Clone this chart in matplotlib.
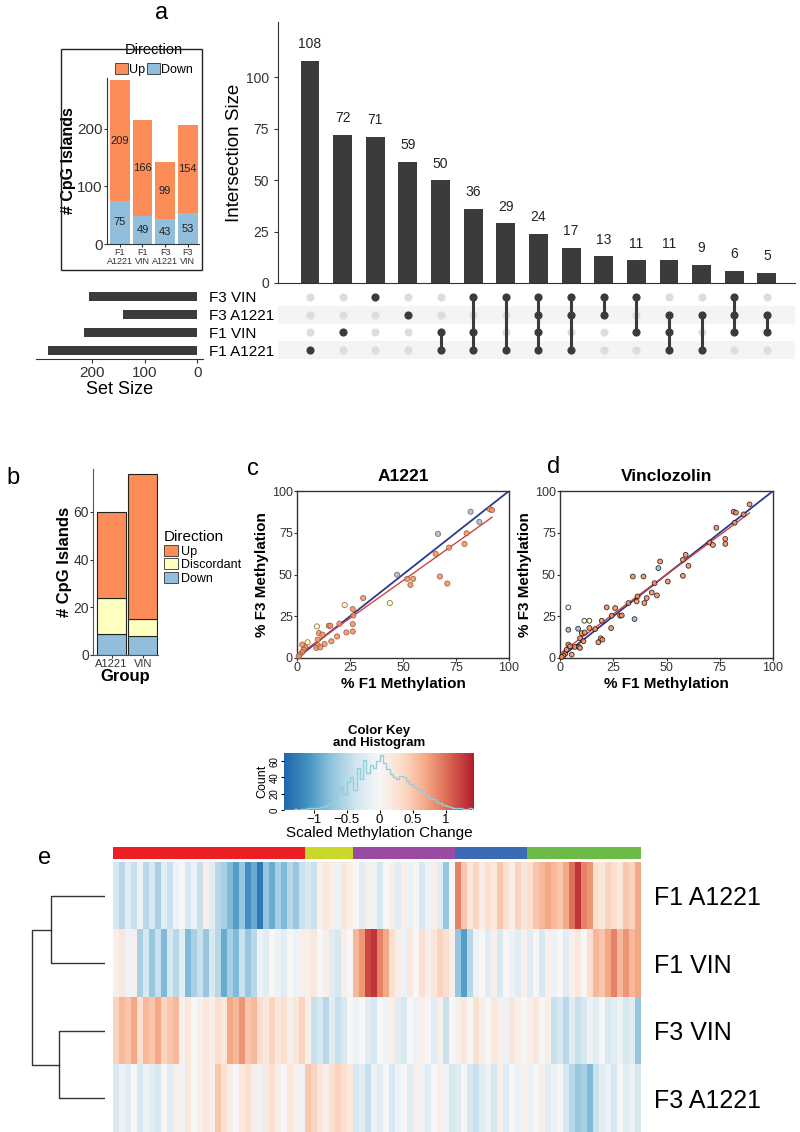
import numpy as np
import matplotlib
matplotlib.use("Agg")
import matplotlib.pyplot as plt
from matplotlib.colors import LinearSegmentedColormap, ListedColormap
from matplotlib.patches import Patch, Rectangle

plt.rcParams['font.family'] = ['Liberation Sans', 'DejaVu Sans']

W, H = 800, 1132

# ---------------- data ----------------
# panel a, inset: CpG islands per group
groups = ["F1\nA1221", "F1\nVIN", "F3\nA1221", "F3\nVIN"]
set_names = ["F1 A1221", "F1 VIN", "F3 A1221", "F3 VIN"]
up_counts = [209, 166, 99, 154]
down_counts = [75, 49, 43, 53]

# panel a, upset: 0=F1 A1221, 1=F1 VIN, 2=F3 A1221, 3=F3 VIN
inter_sizes = [108, 72, 71, 59, 50, 36, 29, 24, 17, 13, 11, 11, 9, 6, 5]
inter_sets = [(0,), (1,), (3,), (2,), (0, 1), (0, 1, 3), (0, 3), (0, 1, 2, 3),
              (0, 2, 3), (2, 3), (1, 3), (0, 1, 2), (0, 2), (1, 2, 3), (1, 2)]

# panel b
b_groups = ["A1221", "VIN"]
b_up = [36, 61]
b_disc = [15, 7]
b_down = [9, 8]

# panel c (A1221), U=up, D=down, X=discordant
c_f1 = [81.9, 91.0, 92.0, 86.0, 66.5, 80.0, 79.0, 71.7, 65.4, 47.2, 52.0, 54.8, 53.5, 67.4, 70.9,
        43.8, 22.5, 31.2, 26.3, 26.6, 26.3, 26.3, 23.3, 15.0, 15.7, 9.4, 10.4, 18.9, 16.2, 13.0,
        9.8, 9.8, 9.1, 11.0, 5.0, 3.9, 3.1, 2.4, 1.3, 0.8, 2.5, 20.0, 12.0]
c_f3 = [87.6, 89.0, 88.6, 81.5, 74.3, 74.7, 68.3, 66.1, 62.4, 49.8, 47.4, 47.4, 43.8, 48.8, 44.6,
        32.9, 31.7, 35.9, 29.3, 25.5, 20.3, 15.9, 15.3, 19.3, 19.3, 18.9, 14.9, 12.9, 10.0, 8.4,
        11.0, 7.6, 6.0, 6.4, 9.4, 6.4, 5.0, 3.4, 2.0, 1.0, 8.0, 20.5, 14.0]
c_dir = list("DUUDDUUUUDUUUUUXXUUUUUUUUXUUUUUUUUXUUUUUUUU")

# panel d (Vinclozolin)
d_f1 = [89, 81.5, 82.6, 86.2, 82, 73.4, 77.6, 77.6, 70.2, 71.8, 59, 57.7, 60.3, 47, 46.2, 57.7,
        50.6, 34.2, 39.2, 44.4, 45.5, 43.1, 40.7, 39.6, 36, 36.4, 32.1, 35, 25.9, 21.9, 24.3, 28.2,
        29, 24, 19.6, 16.5, 19.1, 19.9, 18, 13.8, 11.4, 3.9, 3.9, 10.2, 9.4, 11.6, 11, 7, 8.9, 9.4,
        3.9, 5.5, 2.4, 1.6, 0.8, 3.1, 4.7, 13.8, 8.5]
d_f3 = [92, 87.6, 87, 86, 81, 78, 71.3, 68.3, 69.1, 67.7, 61.8, 58.8, 55.2, 57.8, 53.8, 49.2,
        45.8, 48.8, 48.8, 44.8, 37.5, 39.2, 35.9, 32.9, 33.9, 36.9, 32.9, 23.3, 29.9, 30.3, 25.3, 25.3,
        25.5, 17.9, 22.3, 17.3, 11.8, 11, 9.4, 22.3, 22.3, 30.3, 16.9, 14.9, 11.8, 15.3, 10, 6.6, 6.6, 6,
        8, 2, 2.4, 1.4, 0.6, 5, 7, 18, 17.5]
d_dir = list("UUUUUUUUUUUUUU" "D" "UUUUUUUUUUUU" "D" "UUUUUUUUUUU" "XXX" "D" "UUUUUUUUUUUUUUU" "D")

# panel e, color key histogram (bins of 0.05 from -1.45 to 1.45)
hist_counts = [0, 0, 0, 1, 0, 1, 1, 2, 2, 3,
               3, 4, 5, 6, 8,
               12, 22, 28, 20, 34,
               40, 25, 52, 38, 62,
               45, 55, 52, 60, 67,
               58, 50, 44, 40, 38,
               42, 40, 36, 32, 28,
               26, 24, 20, 18, 15,
               13, 10, 8, 6, 5,
               4, 3, 2, 2, 1,
               1, 2, 1]

# panel e, heatmap (rows top to bottom), column groups
heat_rows = ["F1 A1221", "F1 VIN", "F3 VIN", "F3 A1221"]
col_group_sizes = [32, 8, 17, 12, 19]
col_group_colors = ["#ec2024", "#c9d82b", "#9a4aa3", "#3b6bb4", "#6cbb46"]
heat_f1_a1221 = [-0.3, -0.5, -0.2, -0.4, -0.1, -0.5, -0.3, -0.6, -0.2, -0.4, -0.1, 0.0, -0.3, -0.1, -0.4, 0.1,
                 -0.2, -0.5, -0.6, -0.8, -1.0, -0.7, -1.1, -0.9, -1.3, -0.7, -0.9, -0.6, -0.8, -0.5, -0.7, -0.4,
                 -0.3, -0.4, 0.1, 0.2, 0.1, -0.1, 0.2, 0.1,
                 0.0, -0.2, 0.1, -0.1, -0.3, 0.0, 0.1, -0.2, 0.1, -0.1, 0.0, -0.3, -0.1, 0.1, -0.2, -0.7, 0.0,
                 0.9, 0.5, 0.2, 0.4, 0.1, 0.3, 0.2, 0.5, 0.3, 0.1, 0.4, 0.2,
                 0.3, 0.5, 0.6, 0.7, 0.6, 0.5, 0.7, 1.0, 1.3, 0.9, 0.8, 0.3, 0.2, 0.4, 0.3, 0.2, 0.5, 0.4, 0.7]
heat_f1_vin = [0.1, 0.2, -0.1, 0.1, -0.6, -0.3, -0.7, -0.4, -0.8, -0.3, -0.5, -0.2, -0.8, -0.6, -0.4, -0.7,
               -0.3, -0.5, -0.9, -0.6, -0.8, -0.4, -0.7, -0.5, -0.1, -0.2, 0.0, -0.1, -0.2, 0.0, -0.1, 0.1,
               0.1, 0.2, 0.0, 0.1, -0.2, -0.3, 0.1, 0.0,
               0.6, 0.8, 1.2, 1.3, 0.9, 0.7, 0.3, 0.1, -0.1, 0.2, 0.0, 0.3, 0.1, 0.2, 0.4, 0.3, 0.1,
               -0.7, -1.0, -0.5, -0.1, 0.0, -0.2, 0.1, -0.3, 0.0, -0.1, -0.2, 0.1,
               -0.2, 0.0, -0.3, 0.1, -0.1, 0.0, -0.2, 0.1, 0.2, 0.0, 0.3, 0.6, 0.5, 0.7, 0.9, 0.6, 0.8, 0.6, 0.7]
heat_f3_vin = [0.4, 0.6, 0.5, 0.7, 0.3, 0.6, 0.5, 0.7, 0.4, 0.5, 0.6, 0.1, 0.2, 0.0, 0.1, 0.2,
               0.1, 0.3, 0.2, 0.7, 0.6, 0.8, 0.5, 0.6, 0.3, 0.2, 0.4, 0.2, 0.3, 0.1, 0.2, 0.4,
               0.1, -0.4, -0.3, -0.5, -0.2, -0.4, -0.3, 0.0,
               -0.1, 0.0, -0.2, -0.3, 0.0, -0.1, 0.1, -0.2, -0.3, 0.0, -0.1, 0.1, 0.0, -0.2, 0.1, -0.4, 0.0,
               0.1, 0.2, 0.0, 0.3, 0.1, 0.0, 0.2, 0.1, -0.1, 0.2, 0.1, 0.0,
               0.1, 0.2, 0.0, 0.1, -0.4, -0.3, -0.5, -0.2, -0.4, -0.3, -0.1, -0.2, 0.0, -0.3, -0.2, -0.1, -0.3, -0.2, -0.7]
heat_f3_a1221 = [-0.3, -0.1, -0.2, 0.0, -0.3, -0.1, -0.2, -0.3, 0.0, -0.2, 0.1, -0.1, 0.2, 0.0, 0.1,
                 0.2, 0.1, 0.5, 0.3, 0.1, 0.0, 0.2, 0.3, 0.1, -0.1, 0.2, 0.3, 0.1, 0.0, 0.2, 0.1, -0.1,
                 0.5, 0.4, 0.2, 0.1, 0.3, 0.4, 0.3, 0.2,
                 -0.3, -0.2, -0.4, -0.1, -0.2, 0.0, -0.3, -0.1, 0.0, -0.2, 0.1, -0.1, -0.2, 0.0, 0.1, -0.1, -0.3,
                 -0.2, 0.0, -0.3, -0.4, -0.2, -0.1, -0.3, 0.1, -0.2, 0.0, -0.1, 0.1,
                 -0.1, 0.0, 0.1, -0.2, -0.1, 0.0, -0.3, -0.5, -0.7, -0.6, -0.8, -0.4, -0.2, -0.1, -0.3, 0.0, -0.2, -0.1, -0.3]

# dendrogram merge heights: (F1 A1221, F1 VIN), (F3 VIN, F3 A1221), root
dend_heights = [1.0, 0.85, 1.35]

# ---------------- style ----------------
UP, DISC, DOWN = "#fc8d59", "#ffffbf", "#91bfdb"
DARK = "#3b3b3b"
dir_color = {"U": UP, "X": DISC, "D": DOWN}

fig = plt.figure(figsize=(W / 100, H / 100), dpi=100)


def box(x0, y0, x1, y1):
    return [x0 / W, 1 - y1 / H, (x1 - x0) / W, (y1 - y0) / H]


def ftext(x, y, s, **kw):
    fig.text(x / W, 1 - y / H, s, **kw)


# panel letters
ftext(162, 13, "a", fontsize=17, ha="center", va="center")
ftext(13, 478, "b", fontsize=17, ha="center", va="center")
ftext(253, 469, "c", fontsize=17, ha="center", va="center")
ftext(554, 467, "d", fontsize=17, ha="center", va="center")
ftext(45, 858, "e", fontsize=17, ha="center", va="center")

# ---------------- a: inset ----------------
ax_in = fig.add_axes(box(107, 78, 199, 244))
xg = np.arange(len(groups))
ax_in.bar(xg, down_counts, width=0.88, color=DOWN)
ax_in.bar(xg, up_counts, bottom=down_counts, width=0.88, color=UP)
for i in xg:
    ax_in.text(i, down_counts[i] / 2, str(down_counts[i]), ha="center", va="center", fontsize=8, color="#222")
    ax_in.text(i, down_counts[i] + up_counts[i] / 2, str(up_counts[i]), ha="center", va="center",
               fontsize=8, color="#222")
ax_in.set_xlim(-0.57, 3.5)
ax_in.set_ylim(0, 288)
ax_in.set_yticks([0, 100, 200])
ax_in.tick_params(axis="y", labelsize=11, length=2, pad=1, colors="#333")
ax_in.set_xticks(xg)
ax_in.set_xticklabels(groups, fontsize=6.5, linespacing=1.0)
ax_in.tick_params(axis="x", length=2, pad=1, colors="#333")
ax_in.set_ylabel("# CpG Islands", fontsize=11.5, fontweight="bold", labelpad=1)
for s in ["top", "right"]:
    ax_in.spines[s].set_visible(False)
for s in ["left", "bottom"]:
    ax_in.spines[s].set_color("#333")
    ax_in.spines[s].set_linewidth(0.8)
ax_in.legend(handles=[Patch(fc=UP, ec="#333", lw=0.6), Patch(fc=DOWN, ec="#333", lw=0.6)],
             labels=["Up", "Down"], ncol=2, title="Direction", title_fontsize=10.5, fontsize=9,
             frameon=False, loc="lower center", bbox_to_anchor=(154 / W, 1 - 76 / H),
             bbox_transform=fig.transFigure, handlelength=1.0, handleheight=1.0,
             handletextpad=0.1, columnspacing=0.2, borderpad=0, borderaxespad=0)
fig.add_artist(Rectangle((61 / W, 1 - 270 / H), 141 / W, 221 / H, transform=fig.transFigure,
                         fill=False, ec="#222", lw=1))

# ---------------- a: upset bars ----------------
xi = np.arange(len(inter_sizes))
ax_bar = fig.add_axes(box(278, 22, 795, 283))
ax_bar.bar(xi, inter_sizes, width=0.58, color=DARK)
for x, v in zip(xi, inter_sizes):
    ax_bar.annotate(str(v), (x, v), xytext=(0, 7), textcoords="offset points",
                    ha="center", va="bottom", fontsize=10, color="#222")
ax_bar.set_xlim(-0.98, 14.86)
ax_bar.set_ylim(0, 127)
ax_bar.set_xticks([])
ax_bar.set_yticks([0, 25, 50, 75, 100])
ax_bar.tick_params(axis="y", labelsize=10, length=3, colors="#333")
ax_bar.set_ylabel("Intersection Size", fontsize=13.5, labelpad=2)
for s in ["top", "right"]:
    ax_bar.spines[s].set_visible(False)
for s in ["left", "bottom"]:
    ax_bar.spines[s].set_color("#333")

# matrix
ax_mat = fig.add_axes(box(278, 288, 795, 359))
ax_mat.set_xlim(-0.98, 14.86)
ax_mat.set_ylim(-0.5, 3.5)
for r in (0, 2):
    ax_mat.axhspan(r - 0.5, r + 0.5, color="#f4f4f4", zorder=0, lw=0)
xx, yy = np.meshgrid(xi, np.arange(len(set_names)))
ax_mat.scatter(xx.ravel(), yy.ravel(), s=34, color="#dddddd", zorder=1, lw=0)
for x, members in zip(xi, inter_sets):
    m = sorted(members)
    if len(m) > 1:
        ax_mat.plot([x, x], [m[0], m[-1]], color=DARK, lw=2.2, zorder=2)
    ax_mat.scatter([x] * len(m), m, s=34, color=DARK, zorder=3, lw=0)
ax_mat.axis("off")

# set size
set_sizes = [u + d for u, d in zip(up_counts, down_counts)]
ax_set = fig.add_axes(box(36, 288, 203, 359))
ax_set.barh(np.arange(len(set_names)), set_sizes, height=0.5, color=DARK)
ax_set.set_xlim(307, -11)
ax_set.set_ylim(-0.5, 3.5)
ax_set.yaxis.tick_right()
ax_set.set_yticks(np.arange(len(set_names)))
ax_set.set_yticklabels(set_names, fontsize=11)
ax_set.tick_params(axis="y", length=0, pad=4)
ax_set.set_xticks([0, 100, 200])
ax_set.tick_params(axis="x", labelsize=11, length=3, pad=2, colors="#333")
ax_set.set_xlabel("Set Size", fontsize=13, labelpad=1)
for s in ["top", "right", "left"]:
    ax_set.spines[s].set_visible(False)
ax_set.spines["bottom"].set_color("#333")

# ---------------- b ----------------
ax_b = fig.add_axes(box(93, 469, 158, 655))
xb = np.arange(len(b_groups))
ax_b.bar(xb, b_down, width=0.92, color=DOWN, ec="#222", lw=0.8)
ax_b.bar(xb, b_disc, bottom=b_down, width=0.92, color=DISC, ec="#222", lw=0.8)
ax_b.bar(xb, b_up, bottom=np.add(b_down, b_disc), width=0.92, color=UP, ec="#222", lw=0.8)
ax_b.set_xlim(-0.59, 1.48)
ax_b.set_ylim(0, 78)
ax_b.set_yticks([0, 20, 40, 60])
ax_b.tick_params(axis="y", labelsize=10, length=2, pad=1, colors="#333")
ax_b.set_xticks(xb)
ax_b.set_xticklabels(b_groups, fontsize=8)
ax_b.tick_params(axis="x", length=2, pad=1, colors="#333")
ax_b.set_xlabel("Group", fontsize=12, fontweight="bold", labelpad=0)
ax_b.set_ylabel("# CpG Islands", fontsize=12, fontweight="bold", labelpad=1)
for s in ["top", "right"]:
    ax_b.spines[s].set_visible(False)
for s in ["left", "bottom"]:
    ax_b.spines[s].set_color("#555")
ax_b.legend(handles=[Patch(fc=UP, ec="#333", lw=0.6), Patch(fc=DISC, ec="#333", lw=0.6),
                     Patch(fc=DOWN, ec="#333", lw=0.6)],
            labels=["Up", "Discordant", "Down"], title="Direction", title_fontsize=11, fontsize=9,
            frameon=False, loc="upper left", bbox_to_anchor=(164 / W, 1 - 530 / H),
            bbox_transform=fig.transFigure, handlelength=1.1, handleheight=1.0,
            handletextpad=0.3, labelspacing=0.05, borderpad=0, borderaxespad=0, alignment="left")


# ---------------- c, d ----------------
def scatter_panel(rect, f1, f3, dirs, title, edge, size):
    assert len(f1) == len(f3) == len(dirs)
    ax = fig.add_axes(rect)
    f1 = np.asarray(f1)
    f3 = np.asarray(f3)
    cols = [dir_color[k] for k in dirs]
    ax.plot([0, 100], [0, 100], color="#2b3990", lw=1.3, zorder=2)
    slope, icpt = np.polyfit(f1, f3, 1)
    xs = np.array([f1.min(), f1.max()])
    ax.plot(xs, slope * xs + icpt, color="#d0453a", lw=1.0, zorder=3)
    ax.scatter(f1, f3, s=size, c=cols, edgecolors=edge, linewidths=0.6, alpha=0.85, zorder=4, clip_on=False)
    ax.set_xlim(0, 100)
    ax.set_ylim(0, 100)
    ticks = [0, 25, 50, 75, 100]
    ax.set_xticks(ticks)
    ax.set_yticks(ticks)
    ax.tick_params(labelsize=9, length=2, pad=1, colors="#333")
    ax.set_xlabel("% F1 Methylation", fontsize=11, fontweight="bold", labelpad=2)
    ax.set_ylabel("% F3 Methylation", fontsize=11, fontweight="bold", labelpad=2)
    ax.set_title(title, fontsize=12.5, fontweight="bold", pad=7)
    for s in ax.spines.values():
        s.set_color("#333")
        s.set_linewidth(1.0)
    return ax


scatter_panel(box(297, 491, 509, 658), c_f1, c_f3, c_dir, "A1221", "#8a5a44", 14)
scatter_panel(box(560, 491, 773, 658), d_f1, d_f3, d_dir, "Vinclozolin", "#111111", 12)

# ---------------- e: color key ----------------
heat_cmap = LinearSegmentedColormap.from_list(
    "key", ["#2166ac", "#4393c3", "#92c5de", "#d1e5f0", "#f7f7f7",
            "#fddbc7", "#f4a582", "#d6604d", "#b2182b"])
vlo, vhi = -1.45, 1.45
ax_key = fig.add_axes(box(284, 753, 474, 810))
edges = np.linspace(vlo, vhi, len(hist_counts) + 1)
ax_key.imshow(np.linspace(vlo, vhi, 256)[None, :], aspect="auto", cmap=heat_cmap, vmin=vlo, vmax=vhi,
              extent=[vlo, vhi, 0, 70], zorder=0)
ax_key.stairs(hist_counts, edges, color="#8fd0dc", lw=1.0, zorder=2)
ax_key.set_xlim(vlo, 1.43)
ax_key.set_ylim(0, 70)
ax_key.set_xticks([-1, -0.5, 0, 0.5, 1])
ax_key.set_xticklabels(["\u22121", "\u22120.5", "0", "0.5", "1"])
ax_key.set_yticks([0, 20, 40, 60])
ax_key.set_yticklabels(["0", "20", "40", "60"], rotation=90, va="center")
ax_key.tick_params(axis="x", labelsize=9.5, length=2, pad=1)
ax_key.tick_params(axis="y", labelsize=7, length=2, pad=1)
ax_key.set_ylabel("Count", fontsize=9, labelpad=1)
ax_key.set_xlabel("Scaled Methylation Change", fontsize=11, labelpad=0)
for s in ax_key.spines.values():
    s.set_visible(False)
ftext(379, 737, "Color Key\nand Histogram", fontsize=9.5, fontweight="bold", ha="center", va="center",
      linespacing=1.1)

# ---------------- e: heatmap ----------------
heat = np.array([heat_f1_a1221, heat_f1_vin, heat_f3_vin, heat_f3_a1221])

ax_ann = fig.add_axes(box(113, 847, 641, 859))
col_codes = np.repeat(np.arange(len(col_group_sizes)), col_group_sizes)
ax_ann.imshow(col_codes[None, :], aspect="auto", cmap=ListedColormap(col_group_colors),
              interpolation="nearest", vmin=-0.5, vmax=len(col_group_sizes) - 0.5)
ax_ann.axis("off")

ax_heat = fig.add_axes(box(113, 862, 641, 1132))
ax_heat.imshow(heat, aspect="auto", cmap=heat_cmap, vmin=vlo, vmax=vhi, interpolation="nearest")
ax_heat.set_xticks([])
ax_heat.yaxis.tick_right()
ax_heat.set_yticks(np.arange(len(heat_rows)))
ax_heat.set_yticklabels(heat_rows, fontsize=18)
ax_heat.tick_params(axis="y", length=0, pad=9)
for s in ax_heat.spines.values():
    s.set_visible(False)

# dendrogram
ax_den = fig.add_axes(box(20, 862, 105, 1132))
h_top, h_bot, h_root = dend_heights
lc = "#333333"
ax_den.plot([0, h_top, h_top, 0], [0, 0, 1, 1], color=lc, lw=1)
ax_den.plot([0, h_bot, h_bot, 0], [2, 2, 3, 3], color=lc, lw=1)
ax_den.plot([h_top, h_root, h_root, h_bot], [0.5, 0.5, 2.5, 2.5], color=lc, lw=1)
ax_den.set_xlim(85 / 54, 0)
ax_den.set_ylim(3.5, -0.5)
ax_den.axis("off")

fig.savefig("out.png", dpi=100)
